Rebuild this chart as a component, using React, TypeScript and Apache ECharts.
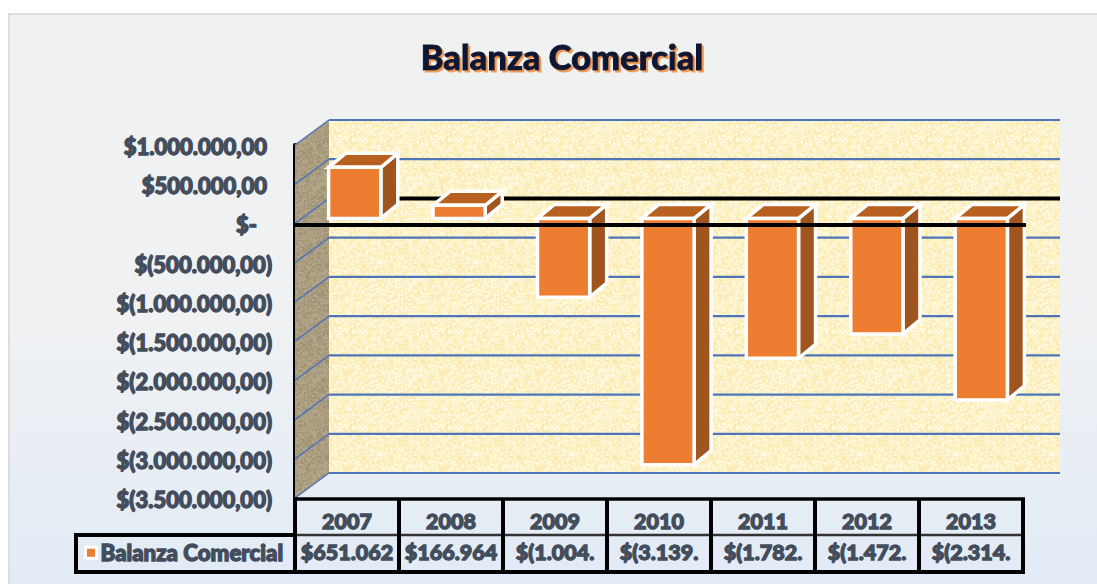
import React, { useEffect, useRef } from "react";
import * as echarts from "echarts";

const years = ["2007", "2008", "2009", "2010", "2011", "2012", "2013"];
const balanza = [651062, 166964, -1004000, -3139000, -1782000, -1472000, -2314000];
const tableValues = ["$651.062", "$166.964", "$(1.004.", "$(3.139.", "$(1.782.", "$(1.472.", "$(2.314."];
const yTicks = [1000000, 500000, 0, -500000, -1000000, -1500000, -2000000, -2500000, -3000000, -3500000];
const yTickLabels = [
  "$1.000.000,00", "$500.000,00", "$-", "$(500.000,00)", "$(1.000.000,00)",
  "$(1.500.000,00)", "$(2.000.000,00)", "$(2.500.000,00)", "$(3.000.000,00)", "$(3.500.000,00)",
];
const seriesName = "Balanza Comercial";
const titleText = "Balanza Comercial";

const FONT = "Lato";
const INK = "#434d5c";
const GRID_LINE = "#4f74b8";
const DX = 34;
const DY = -25;

function texture(base: string, light: string, dark: string) {
  const c = document.createElement("canvas");
  c.width = 96;
  c.height = 96;
  const g = c.getContext("2d")!;
  g.fillStyle = base;
  g.fillRect(0, 0, 96, 96);
  let s = 12345;
  const next = () => {
    s = (s * 1103515245 + 12345) & 0x7fffffff;
    return s / 0x7fffffff;
  };
  for (let i = 0; i < 1500; i++) {
    g.fillStyle = next() < 0.6 ? light : dark;
    g.fillRect(Math.floor(next() * 96), Math.floor(next() * 96), 2, 2);
  }
  return { image: c, repeat: "repeat", imageWidth: 96, imageHeight: 96 };
}

function axisText(extra: object = {}) {
  return {
    fontFamily: FONT,
    fontWeight: 900,
    fontSize: 21.5,
    color: INK,
    textBorderColor: INK,
    textBorderWidth: 1.3,
    ...extra,
  };
}

export default function App() {
  const ref = useRef<HTMLDivElement>(null);
  useEffect(() => {
    const chart = echarts.init(ref.current!, undefined, { renderer: "svg" });
    const wallTex = texture("#fdf2c6", "#fff9e2", "#fbe9ae");
    const sideTex = texture("#a99c7e", "#b3a68a", "#9f9273");
    const black = (x1: number, y1: number, x2: number, y2: number, w = 4, color = "#000") => ({
      type: "line",
      shape: { x1, y1, x2, y2 },
      style: { stroke: color, lineWidth: w },
    });

    const renderFrame = (params: any, api: any) => {
      const cs = params.coordSys;
      const l = cs.x;
      const r = cs.x + cs.width;
      const t = cs.y;
      const b = cs.y + cs.height;
      const children: any[] = [
        {
          type: "polygon",
          shape: { points: [[l, t], [l + DX, t + DY], [l + DX, b + DY], [l, b]] },
          style: { fill: sideTex },
        },
        {
          type: "rect",
          shape: { x: l + DX, y: t + DY, width: r - l, height: b - t },
          style: { fill: wallTex },
        },
      ];
      yTicks.forEach((v) => {
        const y = api.coord([0, v])[1];
        const color = v === 0 ? "#000" : GRID_LINE;
        children.push(black(l, y, l + DX, y + DY, 1.5, GRID_LINE));
        children.push(black(l + DX, y + DY, r + DX, y + DY, v === 0 ? 4 : 2.2, color));
      });
      return { type: "group", children };
    };

    const renderBar = (params: any, api: any) => {
      const i = api.value(0);
      const top = api.coord([i, api.value(1)]);
      const base = api.coord([i, 0]);
      const w = api.size([1, 0])[0] * 0.5;
      const x0 = top[0] + 7.5 - w / 2;
      const x1 = x0 + w;
      const y0 = Math.min(top[1], base[1]) - 5;
      const y1 = Math.max(top[1], base[1]) - 5;
      const dx = 17;
      const dy = -14;
      const edge = { stroke: "#fff", lineWidth: 3.5, lineJoin: "miter" };
      return {
        type: "group",
        children: [
          {
            type: "polygon",
            shape: { points: [[x1, y0], [x1 + dx, y0 + dy], [x1 + dx, y1 + dy], [x1, y1]] },
            style: { fill: "#a0551f", ...edge },
          },
          {
            type: "polygon",
            shape: { points: [[x0, y0], [x0 + dx, y0 + dy], [x1 + dx, y0 + dy], [x1, y0]] },
            style: { fill: "#b8601f", ...edge },
          },
          {
            type: "rect",
            shape: { x: x0, y: y0, width: w, height: y1 - y0 },
            style: { fill: "#ed7d31", ...edge },
          },
        ],
      };
    };

    const renderFront = (params: any, api: any) => {
      const cs = params.coordSys;
      const y = api.coord([0, 0])[1] + 1.5;
      return { type: "group", children: [black(cs.x, y, cs.x + cs.width, y, 4)] };
    };

    const renderTable = (params: any, api: any) => {
      const cs = params.coordSys;
      const l = cs.x;
      const r = cs.x + cs.width;
      const b = cs.y + cs.height;
      const row1 = b + 1;
      const row2 = b + 37;
      const row3 = b + 74;
      const left = 76;
      const band = cs.width / years.length;
      const children: any[] = [
        black(l - 2, row1, r + 2, row1, 3.5),
        black(l, row2, r, row2, 2.5, "#333"),
        black(left - 2, row2, l, row2, 4),
        black(left - 2, row3, r + 2, row3, 4),
        black(left, row2, left, row3, 4),
      ];
      for (let i = 0; i <= years.length; i++) {
        const x = l + band * i;
        children.push(black(x, i === 0 ? b - 1 : row1, x, row3, 4));
      }
      return { type: "group", children };
    };

    const labelRow = (data: string[], offset: number, margin: number) => ({
      type: "category" as const,
      gridIndex: 1,
      data,
      position: "bottom" as const,
      offset,
      axisLine: { show: false },
      axisTick: { show: false },
      axisLabel: { ...axisText(), margin, interval: 0, hideOverlap: false },
    });

    chart.setOption({
      animation: false,
      backgroundColor: "#ffffff",
      title: {
        text: titleText,
        left: 557,
        top: 34,
        textAlign: "center",
        textStyle: {
          fontFamily: FONT,
          fontWeight: 900,
          fontSize: 34.5,
          color: "#0b1733",
          textBorderColor: "#0b1733",
          textBorderWidth: 1,
          textShadowColor: "#f09a55",
          textShadowOffsetX: 2,
          textShadowOffsetY: 2,
          textShadowBlur: 0.5,
        },
      },
      legend: {
        left: 79,
        top: 536,
        itemWidth: 11,
        itemHeight: 11,
        itemGap: 0,
        data: [{ name: seriesName, icon: "rect", itemStyle: { borderColor: "#fff", borderWidth: 3 } }],
        textStyle: { ...axisText({ fontSize: 22.3 }), padding: [0, 0, 0, -1] },
        selectedMode: false,
      },
      graphic: {
        elements: [
          {
            type: "rect",
            z: -10,
            silent: true,
            shape: { x: 9, y: 14, width: 1100, height: 580 },
            style: {
              stroke: "#dedede",
              lineWidth: 2,
              fill: {
                type: "linear",
                x: 0,
                y: 0,
                x2: 0,
                y2: 1,
                colorStops: [
                  { offset: 0, color: "#f1f1f1" },
                  { offset: 0.55, color: "#eff1f3" },
                  { offset: 1, color: "#e1ebf6" },
                ],
              },
            },
          },
        ],
      },
      grid: [
        { left: 295, top: 145, width: 731, height: 353 },
        { left: 295, top: 145, width: 728, height: 353 },
      ],
      xAxis: [
        {
          type: "category",
          gridIndex: 0,
          data: years,
          axisLine: { show: false },
          axisTick: { show: false },
          axisLabel: { show: false },
        },
        labelRow(years, 0, 12),
        labelRow(tableValues, 32, 11),
      ],
      yAxis: [
        {
          type: "value",
          gridIndex: 0,
          min: -3500000,
          max: 1000000,
          interval: 500000,
          splitLine: { show: false },
          axisTick: { show: false },
          axisLine: { show: true, lineStyle: { color: "#000", width: 4 } },
          axisLabel: {
            margin: 23,
            formatter: (v: number) => {
              const s = yTickLabels[yTicks.indexOf(v)];
              return v === 0 ? `{z|${s}}` : v > 0 ? `{p|${s}}` : `{n|${s}}`;
            },
            rich: {
              z: axisText({ fontSize: 22, padding: [3, 15, 0, 0] }),
              p: axisText({ fontSize: 22, padding: [3, 5, 0, 0] }),
              n: axisText({ fontSize: 22, padding: [3, 0, 0, 0] }),
            },
          },
        },
        {
          type: "value",
          gridIndex: 1,
          min: -3500000,
          max: 1000000,
          interval: 500000,
          show: false,
        },
      ],
      series: [
        {
          name: "frame",
          type: "custom",
          xAxisIndex: 0,
          yAxisIndex: 0,
          z: 1,
          silent: true,
          renderItem: renderFrame,
          data: [[0, 0]],
        },
        {
          name: seriesName,
          type: "custom",
          xAxisIndex: 0,
          yAxisIndex: 0,
          z: 2,
          itemStyle: { color: "#ed7d31" },
          encode: { x: 0, y: 1 },
          renderItem: renderBar,
          data: years.map((_, i) => [i, balanza[i]]),
        },
        {
          name: "front",
          type: "custom",
          xAxisIndex: 0,
          yAxisIndex: 0,
          z: 3,
          silent: true,
          renderItem: renderFront,
          data: [[0, 0]],
        },
        {
          name: "table",
          type: "custom",
          xAxisIndex: 1,
          yAxisIndex: 1,
          z: 3,
          silent: true,
          renderItem: renderTable,
          data: [[0, 0]],
        },
      ],
    });
    return () => chart.dispose();
  }, []);
  return (
    <div
      ref={ref}
      style={{ position: "absolute", left: 0, top: 0, width: 1097, height: 584 }}
    />
  );
}
